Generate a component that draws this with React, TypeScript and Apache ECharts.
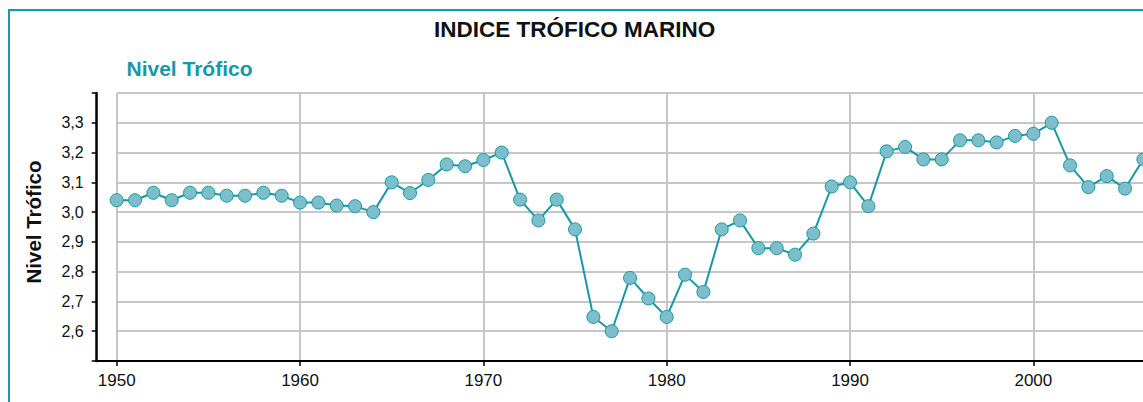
import React, { useEffect, useRef } from "react";
import * as echarts from "echarts";

const TITLE = "INDICE TRÓFICO MARINO";
const SERIES_NAME = "Nivel Trófico";
const Y_NAME = "Nivel Trófico";

const years = [
  1950, 1951, 1952, 1953, 1954, 1955, 1956, 1957, 1958, 1959,
  1960, 1961, 1962, 1963, 1964, 1965, 1966, 1967, 1968, 1969,
  1970, 1971, 1972, 1973, 1974, 1975, 1976, 1977, 1978, 1979,
  1980, 1981, 1982, 1983, 1984, 1985, 1986, 1987, 1988, 1989,
  1990, 1991, 1992, 1993, 1994, 1995, 1996, 1997, 1998, 1999,
  2000, 2001, 2002, 2003, 2004, 2005, 2006,
];

const trophicLevel = [
  3.04, 3.04, 3.065, 3.04, 3.065, 3.065, 3.055, 3.055, 3.065, 3.055,
  3.032, 3.032, 3.022, 3.02, 3.0, 3.1, 3.064, 3.108, 3.16, 3.154,
  3.175, 3.2, 3.042, 2.972, 3.042, 2.942, 2.648, 2.6, 2.779, 2.71,
  2.648, 2.79, 2.732, 2.942, 2.972, 2.879, 2.879, 2.857, 2.928, 3.086,
  3.1, 3.02, 3.204, 3.219, 3.177, 3.177, 3.241, 3.241, 3.234, 3.256,
  3.263, 3.3, 3.157, 3.084, 3.121, 3.079, 3.177,
];

const xTickLabels = ["1950", "1960", "1970", "1980", "1990", "2000"];

const TEAL = "#1798a6";
const MARKER_FILL = "#7cbfcb";
const GRID_COLOR = "#c6c6c6";
const FONT = "Liberation Sans, Arial, sans-serif";
const CHART_W = 1217;

export default function App() {
  const ref = useRef<HTMLDivElement>(null);

  useEffect(() => {
    if (!ref.current) return;
    const chart = echarts.init(ref.current, null, { renderer: "svg" });
    const data = years.map((y, i) => [y, trophicLevel[i]]);
    chart.setOption({
      animation: false,
      textStyle: { fontFamily: FONT },
      title: {
        text: TITLE,
        left: 434,
        top: 18,
        padding: 0,
        textStyle: { fontSize: 22.5, fontWeight: "bold", color: "#111", fontFamily: FONT },
      },
      legend: {
        data: [{ name: SERIES_NAME, icon: "none" }],
        left: 121.5,
        top: 58,
        padding: 0,
        itemWidth: 0,
        itemHeight: 0,
        selectedMode: false,
        textStyle: { color: TEAL, fontSize: 21, fontWeight: "bold", fontFamily: FONT },
      },
      grid: {
        left: 116.7,
        top: 93,
        bottom: 41,
        right: 0.3,
        containLabel: false,
        outerBoundsMode: "none",
      },
      xAxis: {
        type: "value",
        min: 1950,
        max: 2010,
        interval: 10,
        axisLine: { show: true, lineStyle: { color: "#000", width: 2 } },
        axisTick: { show: true, length: 5, lineStyle: { color: "#000", width: 1.5 } },
        axisLabel: {
          margin: 11,
          fontSize: 17,
          color: "#111",
          fontFamily: FONT,
          formatter: (v: number) => (xTickLabels.includes(String(v)) ? String(v) : ""),
        },
        splitLine: { show: true, lineStyle: { color: GRID_COLOR, width: 2 } },
      },
      yAxis: {
        type: "value",
        min: 2.5,
        max: 3.4,
        interval: 0.1,
        offset: 20,
        name: Y_NAME,
        nameLocation: "middle",
        nameRotate: 90,
        nameGap: 53,
        nameTextStyle: {
          fontSize: 20.5,
          fontWeight: "bold",
          color: "#111",
          padding: [0, 0, 0, 10],
          fontFamily: FONT,
        },
        axisLine: { show: true, lineStyle: { color: "#000", width: 2.5 } },
        axisTick: { show: true, length: 5, lineStyle: { color: "#000", width: 1.5 } },
        axisLabel: {
          margin: 13,
          fontSize: 16,
          color: "#111",
          fontFamily: FONT,
          formatter: (v: number) =>
            v < 2.55 || v > 3.35 ? "" : Number(v).toFixed(1).replace(".", ","),
        },
        splitLine: { show: true, lineStyle: { color: GRID_COLOR, width: 2 } },
      },
      graphic: [
        {
          type: "rect",
          shape: { x: 9, y: 10, width: 1140, height: 420 },
          style: { fill: "none", stroke: TEAL, lineWidth: 2 },
          silent: true,
        },
        {
          type: "line",
          shape: { x1: 95.5, y1: 361, x2: 118, y2: 361 },
          style: { stroke: "#000", lineWidth: 2 },
          silent: true,
        },
      ],
      series: [
        {
          name: SERIES_NAME,
          type: "line",
          data,
          symbol: "circle",
          symbolSize: 13,
          lineStyle: { color: TEAL, width: 2 },
          itemStyle: { color: MARKER_FILL, borderColor: TEAL, borderWidth: 1 },
          clip: false,
        },
      ],
    });
    return () => chart.dispose();
  }, []);

  return (
    <div
      style={{
        position: "absolute",
        left: 0,
        top: 0,
        width: 1143,
        height: 402,
        overflow: "hidden",
        background: "#fff",
      }}
    >
      <div ref={ref} style={{ width: CHART_W, height: 402 }} />
    </div>
  );
}
